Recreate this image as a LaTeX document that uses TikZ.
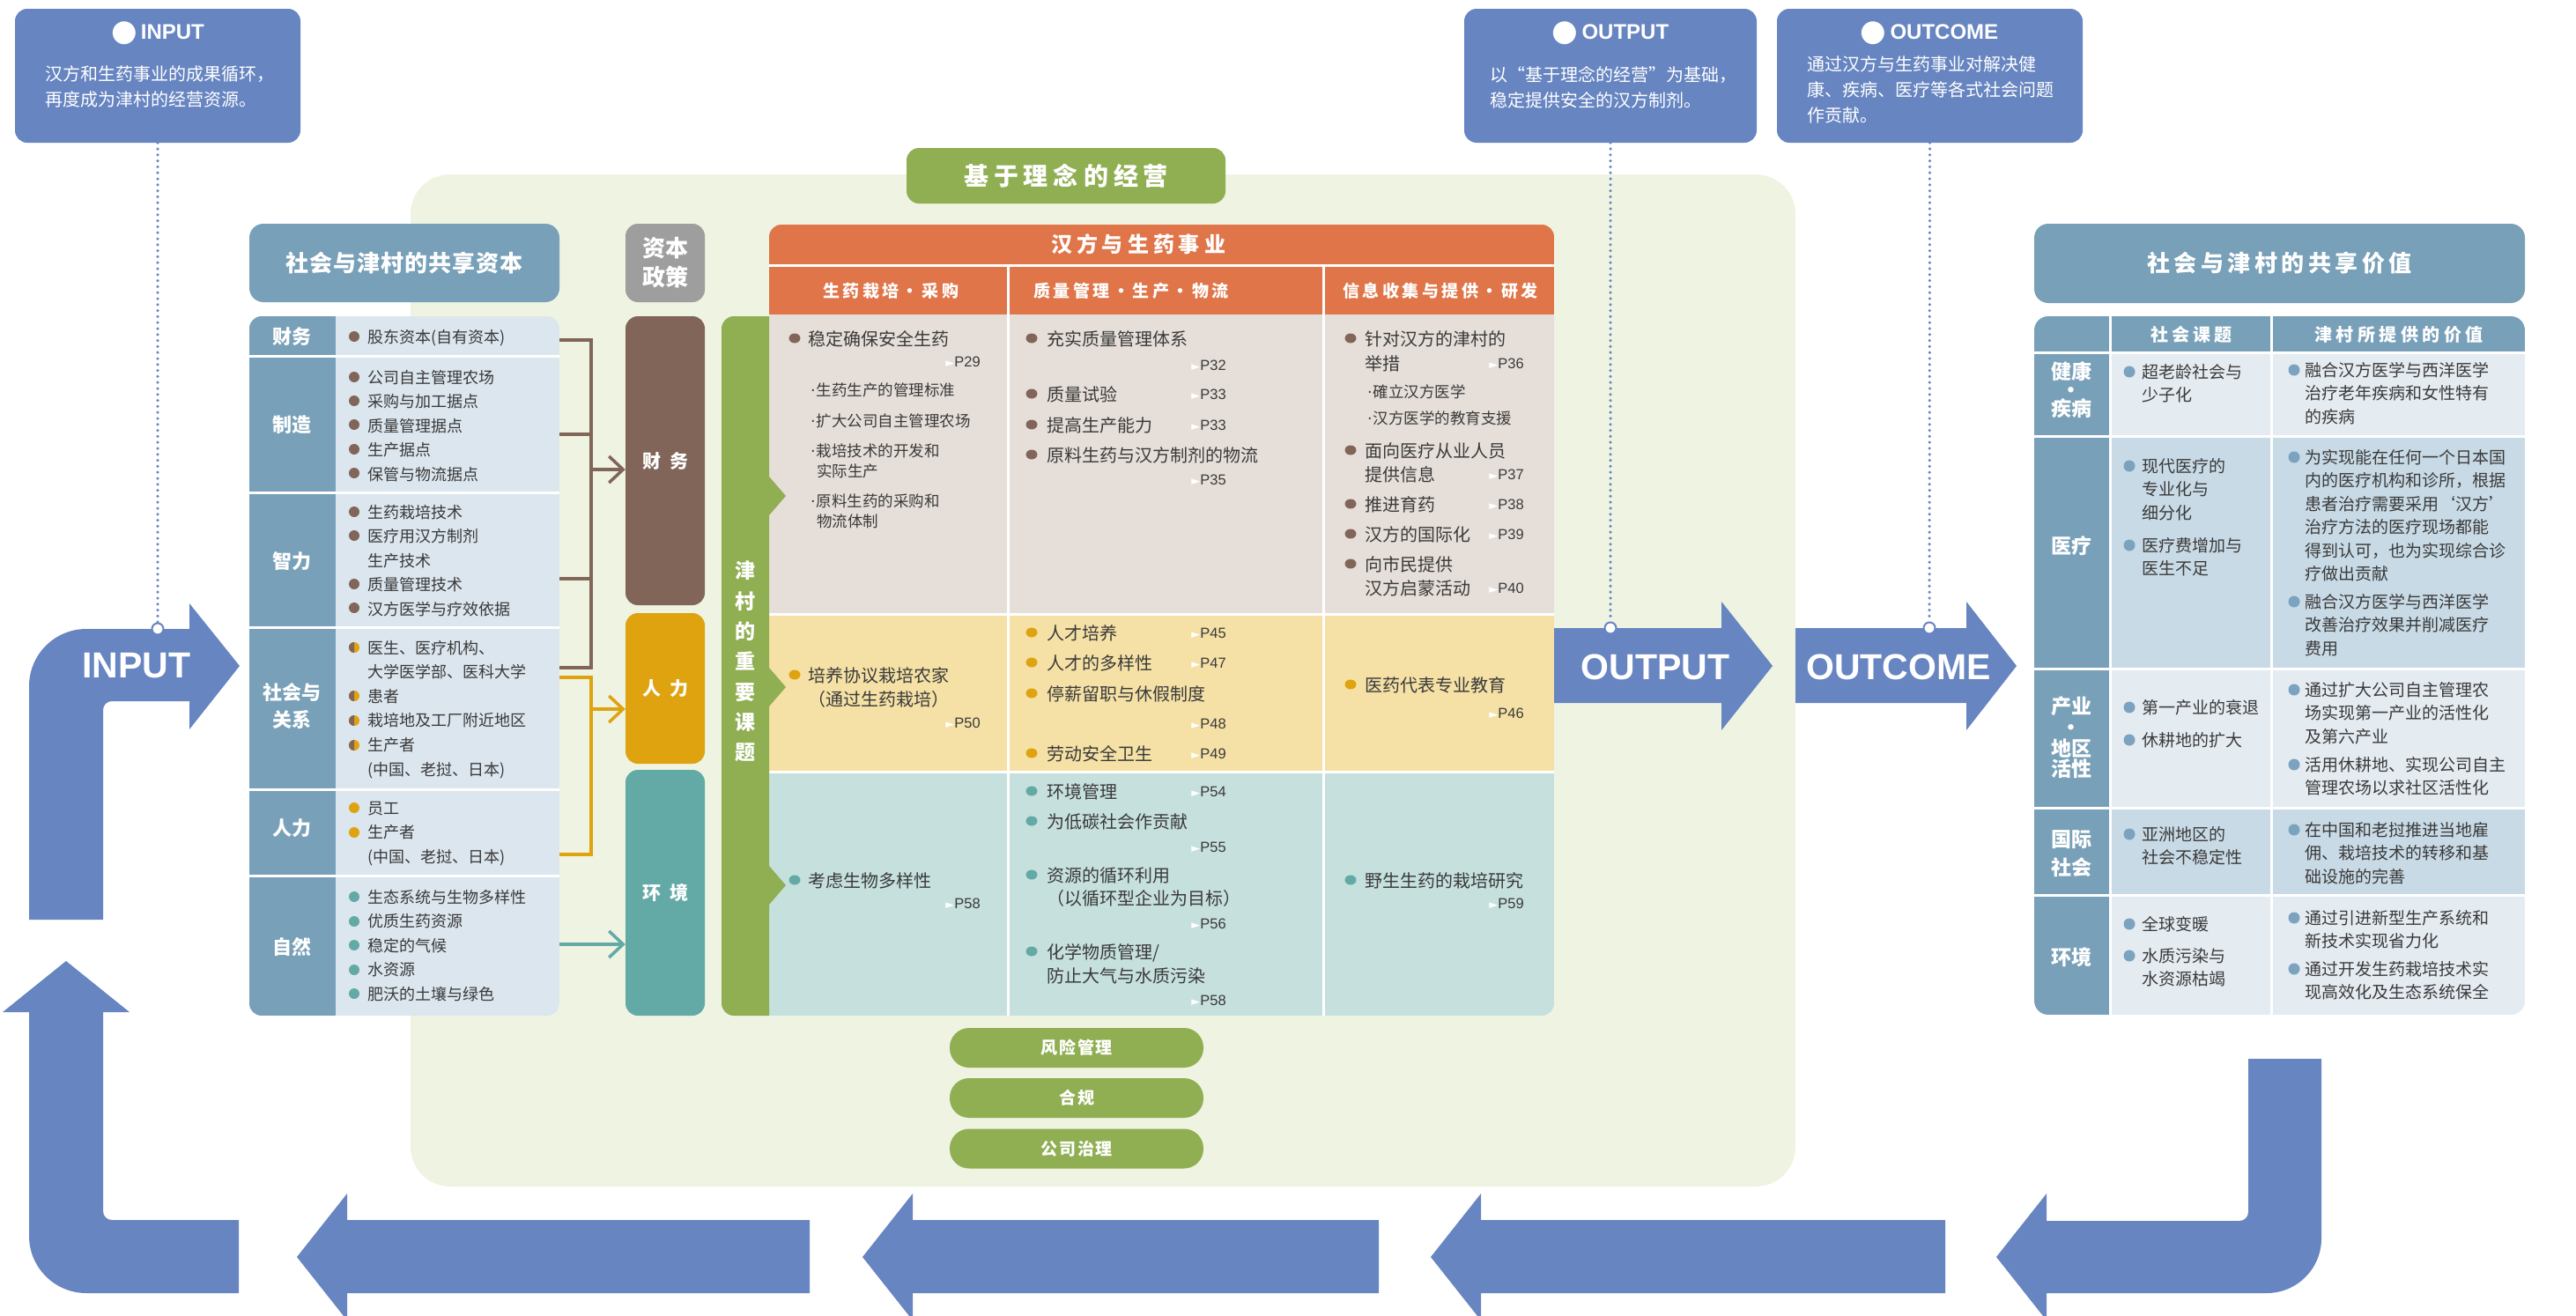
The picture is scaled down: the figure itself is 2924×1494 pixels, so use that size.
\documentclass[tikz,border=0pt]{standalone}
\usepackage{fontspec}
\setmainfont{Liberation Sans}
\newfontfamily\cjk{Noto Sans CJK SC}
\newfontfamily\symf{DejaVu Sans}
\usetikzlibrary{arrows.meta}

\definecolor{flowblue}{HTML}{6785C1}
\definecolor{panelgreen}{HTML}{EFF3E2}
\definecolor{leafgreen}{HTML}{8FAF52}
\definecolor{steel}{HTML}{78A0B8}
\definecolor{steellight}{HTML}{DCE6EE}
\definecolor{valuelight}{HTML}{E4EBF1}
\definecolor{valuedark}{HTML}{C8DAE5}
\definecolor{policygray}{HTML}{9E9E9E}
\definecolor{finbrown}{HTML}{806558}
\definecolor{humgold}{HTML}{DEA30F}
\definecolor{envteal}{HTML}{63AAA6}
\definecolor{bizorange}{HTML}{E07549}
\definecolor{rowbrown}{HTML}{E6DFD9}
\definecolor{rowgold}{HTML}{F5E1A5}
\definecolor{rowteal}{HTML}{C6E0DD}
\definecolor{ink}{HTML}{3A3A3A}
\definecolor{valuedot}{HTML}{7BA2BE}

% spread the characters of a heading apart
\newcommand{\gapped}[2]{\def\gapsize{#1}\gappedfirst#2\relax}
\def\gappedfirst#1{#1\gappednext}
\def\gappednext#1{\ifx#1\relax\else\hspace{\gapsize}#1\expandafter\gappednext\fi}
\newcommand{\pg}[1]{{\symf\fontsize{13}{13}\selectfont\textcolor{white}{►}}P#1}
\newcommand{\subdot}{{\symf·}\hspace{1pt}}
\newcommand{\bul}{\raisebox{-2.5pt}{\symf\fontsize{34}{34}\selectfont●}}

\begin{document}
\begin{tikzpicture}[x=1pt, y=-1pt,
    every node/.style={inner sep=0pt},
    bluebox/.style={fill=flowblue, rounded corners=14, minimum height=152},
    boxtitle/.style={text=white, font=\bfseries\fontsize{24}{24}\selectfont},
    boxtext/.style={anchor=base west, align=left, text=white, font=\cjk\fontsize{20}{29}\selectfont},
    header/.style={fill=steel, rounded corners=16, text=white, font=\cjk\bfseries\fontsize{26}{26}\selectfont},
    rowlab/.style={text=white, align=center, font=\cjk\bfseries\fontsize{22}{31}\selectfont},
    lcell/.style={anchor=base west, align=left, text=ink, font=\cjk\fontsize{18}{27.4}\selectfont},
    policy/.style={rounded corners=14, minimum width=90, text=white, font=\cjk\bfseries\fontsize{21}{21}\selectfont},
    bracket/.style={line width=3.5},
    chev/.style={-{Straight Barb[length=16pt,width=30pt]}},
    colhead/.style={text=white, font=\cjk\bfseries\fontsize{19}{19}\selectfont},
    mcell/.style={anchor=base west, align=left, text=ink, font=\cjk\fontsize{20}{27}\selectfont},
    msub/.style={anchor=base west, align=left, text=ink, font=\cjk\fontsize{17.5}{22.5}\selectfont},
    pref/.style={anchor=base east, text=ink, font=\fontsize{16.5}{16.5}\selectfont},
    pill/.style={fill=leafgreen, rounded corners=22, minimum width=288, minimum height=45, text=white, font=\cjk\bfseries\fontsize{19}{19}\selectfont},
    rcell/.style={anchor=base west, align=left, text=ink, font=\cjk\fontsize{19}{26.5}\selectfont},
    vlab/.style={text=white, align=center, font=\cjk\bfseries\fontsize{23}{32}\selectfont},
    flowlab/.style={text=white, font=\bfseries\fontsize{41}{41}\selectfont},
    dotline/.style={flowblue, line width=3.5, line cap=round, dash pattern=on 0pt off 6.8pt},
    dotend/.style={circle, draw=flowblue, fill=white, line width=2, minimum size=13}]

\useasboundingbox (0,0) rectangle (2924,1494);

\node[fill=panelgreen, rounded corners=45, minimum width=1572, minimum height=1149] (panel) at (1252,772.5) {};
\node[fill=leafgreen, rounded corners=14, minimum width=362, minimum height=63, text=white,
      font=\cjk\bfseries\fontsize{28}{28}\selectfont] (idea) at (1210,199.5) {\gapped{6pt}{基于理念的经营}};

% explanation boxes (multi-line texts sit on the baseline of their last line)
\node[bluebox, minimum width=324] (inbox) at (179,86) {};
\node[boxtitle] (intitle) at (179,38) {\bul\,INPUT};
\node[boxtext] (intext) at (51,120) {汉方和生药事业的成果循环，\\再度成为津村的经营资源。};
\node[bluebox, minimum width=332] (outbox) at (1828,86) {};
\node[boxtitle] (outtitle) at (1828,38) {\bul\,OUTPUT};
\node[boxtext] (outtext) at (1691,121) {以“基于理念的经营”为基础，\\稳定提供安全的汉方制剂。};
\node[bluebox, minimum width=347] (ocmbox) at (2190.5,86) {};
\node[boxtitle] (ocmtitle) at (2190,38) {\bul\,OUTCOME};
\node[boxtext] (ocmtext) at (2051,138) {通过汉方与生药事业对解决健\\康、疾病、医疗等各式社会问题\\作贡献。};

% shared capital
\node[header, minimum width=352, minimum height=89] (capital) at (459,298.5) {\gapped{1pt}{社会与津村的共享资本}};
\node[minimum width=352, minimum height=794] (lt) at (459,756) {};
\begin{scope}
  \clip[rounded corners=14] (283,359) rectangle (635,1153);
  \fill[steellight] (283,359) rectangle (635,1153);
  \fill[steel] (283,359) rectangle (381,1153);
  \foreach \y in {404,559,712,896,994} \draw[white, line width=3] (283,\y) -- (635,\y);
\end{scope}
\node[rowlab] (lfin) at (331,382) {财务};
\node[rowlab] (lmfg) at (331,482) {制造};
\node[rowlab] (lint) at (331,637) {智力};
\node[rowlab] (lsoc) at (331,802) {社会与\\关系};
\node[rowlab] (lhum) at (331,940) {人力};
\node[rowlab] (lnat) at (331,1075) {自然};

\foreach \y in {382,428,455,482,510,537,581,608,663,690} \fill[finbrown] (402,\y) circle (6);
\foreach \y in {735,790,818,846} {
  \fill[humgold] (402,\y) circle (6);
  \fill[finbrown] (402,\y-6) arc[start angle=270, end angle=90, radius=6] -- cycle;
}
\foreach \y in {917,945} \fill[humgold] (402,\y) circle (6);
\foreach \y in {1018,1046,1073,1101,1128} \fill[envteal] (402,\y) circle (6);

\node[lcell] (tfin) at (417,389) {股东资本(自有资本)};
\node[lcell] (tmfg) at (417,545) {公司自主管理农场\\采购与加工据点\\质量管理据点\\生产据点\\保管与物流据点};
\node[lcell] (tint) at (417,698) {生药栽培技术\\医疗用汉方制剂\\生产技术\\质量管理技术\\汉方医学与疗效依据};
\node[lcell, font=\cjk\fontsize{18}{27.6}\selectfont] (tsoc) at (417,880) {医生、医疗机构、\\大学医学部、医科大学\\患者\\栽培地及工厂附近地区\\生产者\\(中国、老挝、日本)};
\node[lcell] (thum) at (417,979) {员工\\生产者\\(中国、老挝、日本)};
\node[lcell] (tnat) at (417,1135) {生态系统与生物多样性\\优质生药资源\\稳定的气候\\水资源\\肥沃的土壤与绿色};

% capital strategy
\node[policy, fill=policygray, minimum height=89, align=center,
      font=\cjk\bfseries\fontsize{26}{33}\selectfont] (strategy) at (755,298.5) {资本\\政策};
\node[policy, fill=finbrown, minimum height=328] (pfin) at (755,523) {\gapped{10pt}{财务}};
\node[policy, fill=humgold, minimum height=171] (phum) at (755,781.5) {\gapped{10pt}{人力}};
\node[policy, fill=envteal, minimum height=279] (penv) at (755,1013.5) {\gapped{10pt}{环境}};

\draw[bracket, finbrown] (lt.east |- 0,386) -| (671,758) -- (lt.east |- 0,758);
\draw[bracket, finbrown] (lt.east |- 0,493) -- (671,493) (lt.east |- 0,657) -- (671,657);
\draw[bracket, finbrown, chev] (671,533) -- (pfin.west |- 0,533);
\draw[bracket, humgold] (lt.east |- 0,769) -| (671,970) -- (lt.east |- 0,970);
\draw[bracket, humgold, chev] (671,805) -- (phum.west |- 0,805);
\draw[bracket, envteal, chev] (lt.east |- 0,1072) -- (penv.west |- 0,1072);

% kampo and crude drug business
\node[minimum width=891, minimum height=898] (biz) at (1318.5,704) {};
\begin{scope}
  \clip (873,1153) -- (873,269) arc[start angle=180, end angle=270, radius=14] -- (1750,255)
    arc[start angle=270, end angle=360, radius=14] -- (1764,1139) arc[start angle=0, end angle=90, radius=14] -- cycle;
  \fill[bizorange] (873,255) rectangle (1764,357);
  \fill[rowbrown] (873,357) rectangle (1764,697);
  \fill[rowgold] (873,697) rectangle (1764,876);
  \fill[rowteal] (873,876) rectangle (1764,1153);
  \draw[white, line width=3] (873,301.5) -- (1764,301.5) (873,697) -- (1764,697) (873,876) -- (1764,876)
    (1144.5,301.5) -- (1144.5,1153) (1502.5,301.5) -- (1502.5,1153);
\end{scope}
\node[text=white, font=\cjk\bfseries\fontsize{24}{24}\selectfont] (bizttl) at (1292,277) {\gapped{5pt}{汉方与生药事业}};
\node[colhead] (col1) at (1011,330) {\gapped{3.5pt}{生药栽培・采购}};
\node[colhead] (col2) at (1284,330) {\gapped{3.5pt}{质量管理・生产・物流}};
\node[colhead] (col3) at (1635,330) {\gapped{3.5pt}{信息收集与提供・研发}};

\fill[leafgreen] (873,359) -- (833,359) arc[start angle=270, end angle=180, radius=14] -- (819,1139)
  arc[start angle=180, end angle=90, radius=14] -- (873,1153) -- cycle;
\foreach \y in {563,780,1005} \fill[leafgreen] (873,\y-22) -- (892,\y) -- (873,\y+22) -- cycle;
\node[vlab, font=\cjk\bfseries\fontsize{23}{34.3}\selectfont] (issues) at (846,751) {津\\村\\的\\重\\要\\课\\题};

\node[mcell] (m11) at (917,392) {稳定确保安全生药};
\node[msub] (m12) at (920,598) {\subdot 生药生产的管理标准\\[12.5pt]\subdot 扩大公司自主管理农场\\[11.5pt]\subdot 栽培技术的开发和\\\hspace*{7pt}实际生产\\[12pt]\subdot 原料生药的采购和\\\hspace*{7pt}物流体制};
\node[mcell] (m13) at (917,801) {培养协议栽培农家\\（通过生药栽培）};
\node[mcell] (m14) at (917,1007) {考虑生物多样性};

\node[mcell] (m21) at (1188,392) {充实质量管理体系};
\node[mcell] (m22) at (1188,455) {质量试验};
\node[mcell] (m23) at (1188,490) {提高生产能力};
\node[mcell] (m24) at (1188,524) {原料生药与汉方制剂的物流};
\node[mcell] (m25) at (1188,726) {人才培养};
\node[mcell] (m26) at (1188,760) {人才的多样性};
\node[mcell] (m27) at (1188,795) {停薪留职与休假制度};
\node[mcell] (m28) at (1188,863) {劳动安全卫生};
\node[mcell] (m29) at (1188,906) {环境管理};
\node[mcell] (m210) at (1188,940) {为低碳社会作贡献};
\node[mcell, font=\cjk\fontsize{20}{26}\selectfont] (m211) at (1188,1027) {资源的循环利用\\（以循环型企业为目标）};
\node[mcell] (m212) at (1188,1115) {化学物质管理/\\防止大气与水质污染};

\node[mcell, font=\cjk\fontsize{20}{28}\selectfont] (m31) at (1549,420) {针对汉方的津村的\\举措};
\node[msub, font=\cjk\fontsize{17.5}{30}\selectfont] (m32) at (1552,481) {\subdot 確立汉方医学\\\subdot 汉方医学的教育支援};
\node[mcell] (m33) at (1549,546) {面向医疗从业人员\\提供信息};
\node[mcell] (m34) at (1549,580) {推进育药};
\node[mcell] (m35) at (1549,614) {汉方的国际化};
\node[mcell] (m36) at (1549,675) {向市民提供\\汉方启蒙活动};
\node[mcell] (m37) at (1549,785) {医药代表专业教育};
\node[mcell] (m38) at (1549,1007) {野生生药的栽培研究};

\foreach \x/\y in {902/384, 1171/384, 1171/447, 1171/482, 1171/516, 1533/384, 1533/511, 1533/572, 1533/606, 1533/640}
  \fill[finbrown] (\x,\y) ellipse (6.5 and 5.5);
\foreach \x/\y in {902/766, 1171/718, 1171/752, 1171/787, 1171/855, 1533/777}
  \fill[humgold] (\x,\y) ellipse (6.5 and 5.5);
\foreach \x/\y in {902/999, 1171/898, 1171/932, 1171/993, 1171/1080, 1533/999}
  \fill[envteal] (\x,\y) ellipse (6.5 and 5.5);

\foreach \x/\y/\p [count=\i] in {1113/416/29, 1113/826/50, 1113/1031/58, 1392/420/32, 1392/453/33,
    1392/488/33, 1392/550/35, 1392/724/45, 1392/758/47, 1392/827/48, 1392/861/49, 1392/904/54,
    1392/967/55, 1392/1054/56, 1392/1141/58, 1730/418/36, 1730/544/37, 1730/578/38, 1730/612/39,
    1730/673/40, 1730/815/46, 1730/1031/59}
  \node[pref] (pg\i) at (\x,\y) {\pg{\p}};

\node[pill] (risk) at (1222,1189.5) {\gapped{2pt}{风险管理}};
\node[pill] (comply) at (1222,1246.5) {\gapped{2pt}{合规}};
\node[pill] (govern) at (1222,1304) {\gapped{2pt}{公司治理}};

% shared value
\node[header, minimum width=557, minimum height=90] (shared) at (2587.5,299) {\gapped{4.5pt}{社会与津村的共享价值}};
\node[minimum width=557, minimum height=793] (rt) at (2587.5,755.5) {};
\begin{scope}
  \clip[rounded corners=16] (2309,359) rectangle (2866,1152);
  \fill[steel] (2309,359) rectangle (2866,400);
  \fill[valuelight] (2396,400) rectangle (2866,495);
  \fill[valuedark] (2396,495) rectangle (2866,759);
  \fill[valuelight] (2396,759) rectangle (2866,917);
  \fill[valuedark] (2396,917) rectangle (2866,1016);
  \fill[valuelight] (2396,1016) rectangle (2866,1152);
  \fill[steel] (2309,400) rectangle (2396,1152);
  \foreach \y in {400.5,495.5,759,917.5,1016.5} \draw[white, line width=3] (2309,\y) -- (2866,\y);
  \foreach \x in {2395.5,2578.5} \draw[white, line width=3] (\x,359) -- (\x,1152);
\end{scope}
\node[colhead, font=\cjk\bfseries\fontsize{20}{20}\selectfont] (issue) at (2487,380) {\gapped{4pt}{社会课题}};
\node[colhead, font=\cjk\bfseries\fontsize{20}{20}\selectfont] (value) at (2723,380) {\gapped{4.5pt}{津村所提供的价值}};

\node[vlab, font=\cjk\bfseries\fontsize{23}{21}\selectfont] (health) at (2351,443) {健康\\・\\疾病};
\node[vlab] (care) at (2351,620) {医疗};
\node[vlab, font=\cjk\bfseries\fontsize{23}{23.7}\selectfont] (region) at (2351,837.5) {产业\\・\\地区\\活性};
\node[vlab] (global) at (2351,969) {国际\\社会};
\node[vlab] (nature) at (2351,1087) {环境};

\foreach \y in {422,529,619,803,840,947,1049,1085} \fill[valuedot] (2417,\y) circle (6.5);
\foreach \y in {420,519,683,783,868,942,1042,1100} \fill[valuedot] (2604,\y) circle (6.5);

\node[rcell] (v11) at (2431,455.5) {超老龄社会与\\少子化};
\node[rcell] (v21) at (2431,589) {现代医疗的\\专业化与\\细分化};
\node[rcell] (v22) at (2431,652.5) {医疗费增加与\\医生不足};
\node[rcell] (v31) at (2431,810) {第一产业的衰退};
\node[rcell] (v32) at (2431,847) {休耕地的扩大};
\node[rcell] (v41) at (2431,980.5) {亚洲地区的\\社会不稳定性};
\node[rcell] (v51) at (2431,1056) {全球变暖};
\node[rcell] (v52) at (2431,1118.5) {水质污染与\\水资源枯竭};

\node[rcell] (w11) at (2616,480) {融合汉方医学与西洋医学\\治疗老年疾病和女性特有\\的疾病};
\node[rcell] (w21) at (2616,658.5) {为实现能在任何一个日本国\\内的医疗机构和诊所，根据\\患者治疗需要采用‘汉方’\\治疗方法的医疗现场都能\\得到认可，也为实现综合诊\\疗做出贡献};
\node[rcell] (w22) at (2616,743) {融合汉方医学与西洋医学\\改善治疗效果并削减医疗\\费用};
\node[rcell] (w31) at (2616,843) {通过扩大公司自主管理农\\场实现第一产业的活性化\\及第六产业};
\node[rcell] (w32) at (2616,901.5) {活用休耕地、实现公司自主\\管理农场以求社区活性化};
\node[rcell] (w41) at (2616,1002) {在中国和老挝推进当地雇\\佣、栽培技术的转移和基\\础设施的完善};
\node[rcell] (w51) at (2616,1075.5) {通过引进新型生产系统和\\新技术实现省力化};
\node[rcell] (w52) at (2616,1133.5) {通过开发生药栽培技术实\\现高效化及生态系统保全};

% value creation cycle
\fill[flowblue] (33,1044) -- (33,779) arc[start angle=180, end angle=270, radius=65] -- (215,714) -- (215,685)
  -- (272,756) -- (215,828) -- (215,796) -- (127,796) arc[start angle=270, end angle=180, radius=10] -- (117,1044) -- cycle;
\fill[flowblue] (75,1091) -- (147,1149) -- (117,1149) -- (117,1375) arc[start angle=180, end angle=90, radius=10]
  -- (271,1385) -- (271,1468) -- (98,1468) arc[start angle=90, end angle=180, radius=65] -- (33,1149) -- (3,1149) -- cycle;
\foreach \t/\e in {337/919, 979/1565, 1624/2208}
  \fill[flowblue] (\t,1427) -- (\t+57,1355) -- (\t+57,1385) -- (\e,1385) -- (\e,1468) -- (\t+57,1468) -- (\t+57,1499) -- cycle;
\fill[flowblue] (2266,1427) -- (2323,1355) -- (2323,1386) -- (2542,1386) arc[start angle=90, end angle=0, radius=10]
  -- (2552,1202) -- (2635,1202) -- (2635,1406) arc[start angle=0, end angle=90, radius=62] -- (2323,1468) -- (2323,1499) -- cycle;
\fill[flowblue] (biz.east |- 0,713) -- (1954,713) -- (1954,683) -- (2012,756) -- (1954,829) -- (1954,798) -- (biz.east |- 0,798) -- cycle;
\fill[flowblue] (2038,713) -- (2232,713) -- (2232,683) -- (2289,756) -- (2232,829) -- (2232,798) -- (2038,798) -- cycle;

\node[flowlab] (inlab) at (155,756) {INPUT};
\node[flowlab] (outlab) at (1879,757) {OUTPUT};
\node[flowlab] (ocmlab) at (2155,757) {OUTCOME};

\node[dotend] (incirc) at (179,714) {};
\node[dotend] (outcirc) at (1828,713) {};
\node[dotend] (ocmcirc) at (2190,713) {};
\draw[dotline] (inbox.south) -- (incirc.north);
\draw[dotline] (outbox.south) -- (outcirc.north);
\draw[dotline] (ocmbox.south) -- (ocmcirc.north);
\end{tikzpicture}
\end{document}
